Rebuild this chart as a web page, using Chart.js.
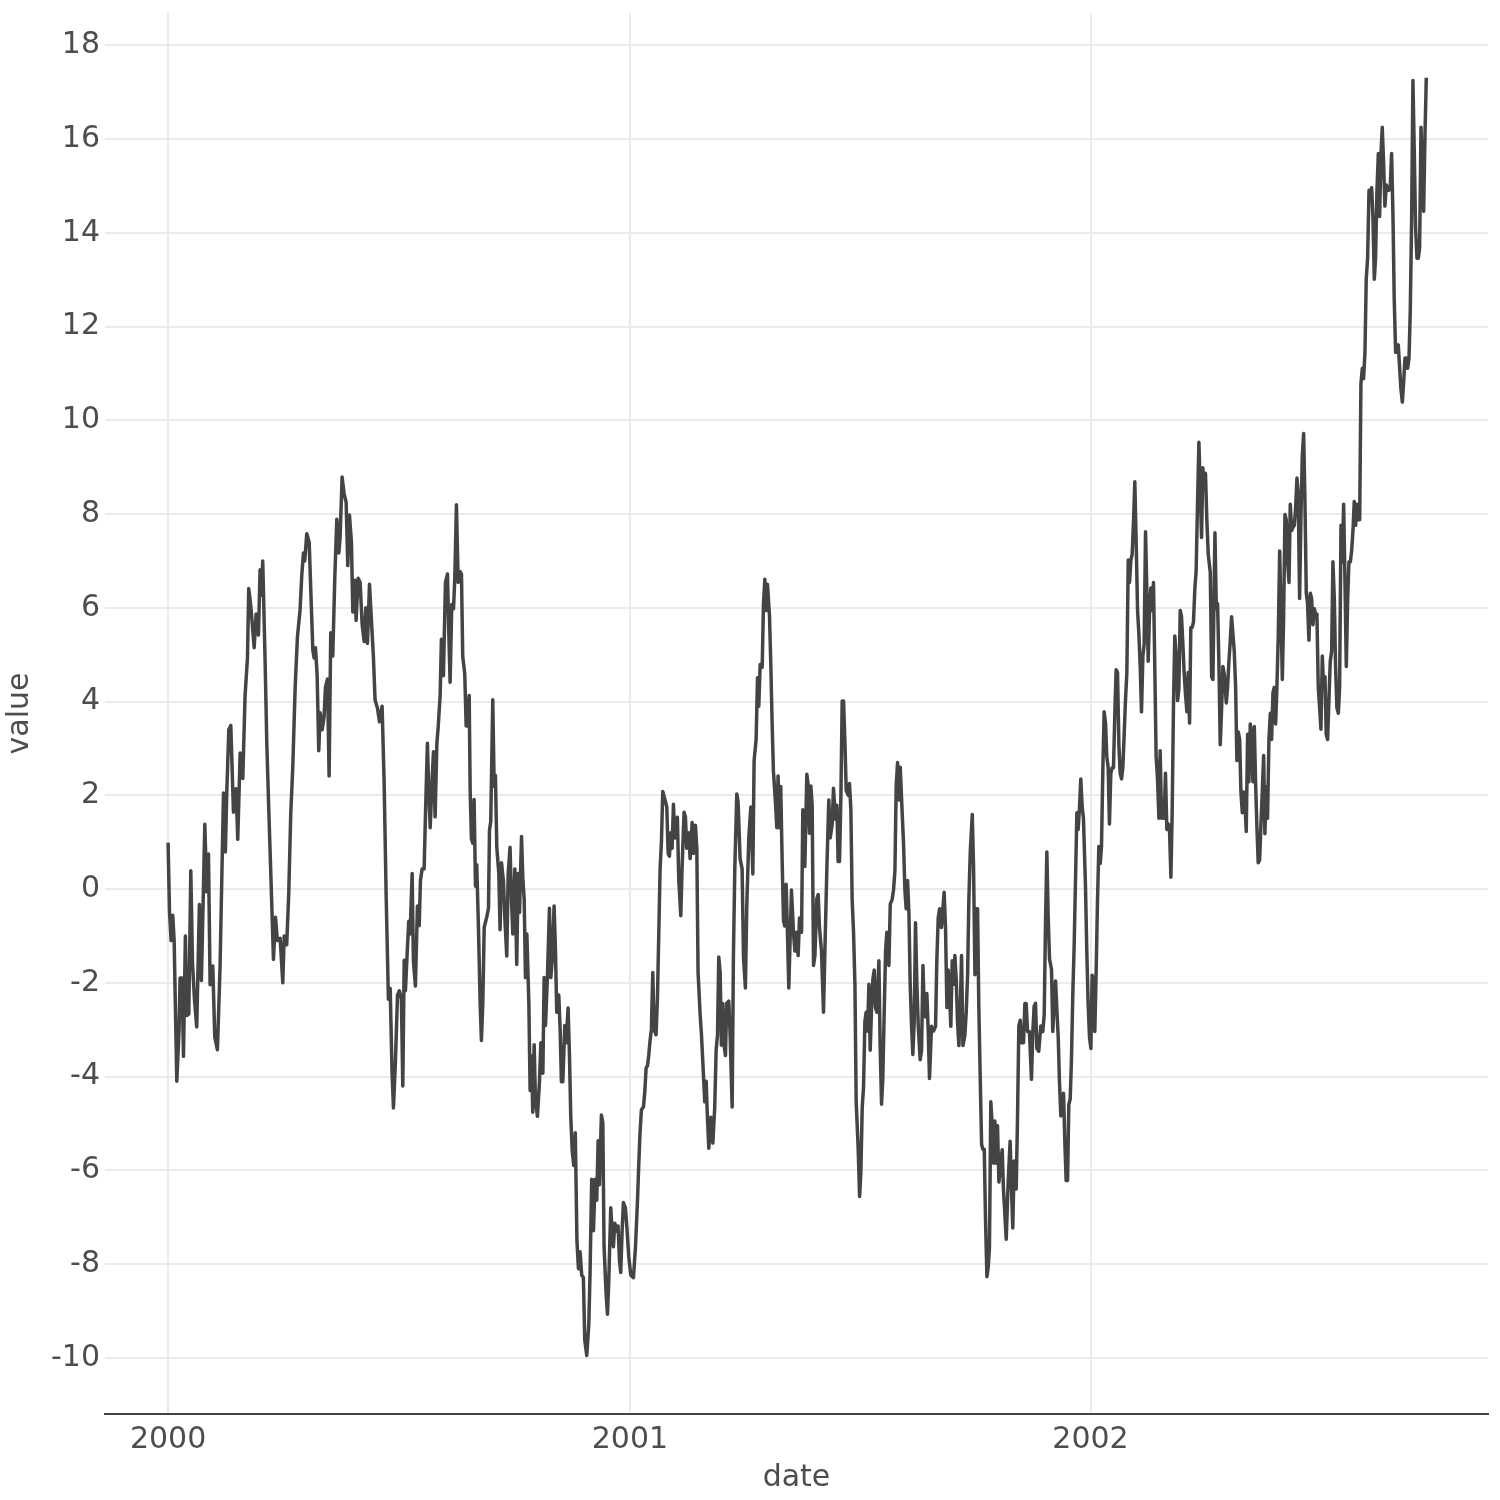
<!DOCTYPE html>
<html>
<head>
<meta charset="utf-8">
<title>value by date</title>
<script src="https://cdn.jsdelivr.net/npm/chart.js@4/dist/chart.umd.min.js"></script>
<style>
  html, body { margin: 0; padding: 0; background: #ffffff; }
  #wrap { width: 1500px; height: 1500px; position: relative; }
</style>
</head>
<body>
<div id="wrap"><canvas id="chart"></canvas></div>
<script>
// days since 2000-01-01
const dayOffsets = [
  // 2000
  0, 1.1, 2.4, 3.7, 4.8, 6.9, 8.7, 9.5, 11.1, 12.2,
  13.7, 14.8, 16.4, 18, 19.3, 20.9, 22.7, 24.8, 26.4, 29.1,
  30.6, 32, 33.3, 35.4, 37, 39.1, 41.2, 43.9, 45.4, 46.5,
  48.1, 49.7, 51.8, 53.9, 55.2, 57.1, 59.2, 61, 62.9, 63.9,
  65.5, 68.2, 69.8, 71.6, 72.9, 74, 75, 76.9, 78.2, 79.8,
  81.6, 83.5, 85.1, 86.6, 88.8, 90.9, 92, 94, 95.6, 97.2,
  98.8, 100.7, 102.5, 104.6, 106, 107.3, 108.3, 109.9, 111.8, 113.1,
  114.7, 115.7, 116.8, 118.1, 119.4, 120.5, 122.1, 123.6, 124.7, 126.3,
  127.6, 128.9, 130.5, 132.1, 133.7, 135.3, 136.3, 137.9, 139.5, 141.1,
  142.4, 143.7, 145.3, 146.4, 148, 149, 150.6, 152.2, 153.8, 155.4,
  156.7, 158, 159.6,
  162.7, 164, 166, 167.5, 169.6, 171.2, 172.8, 174.6, 176, 177.5,
  178.6, 180.2, 181.8, 183.3, 184.9, 186, 187.1, 188.1, 189.2, 190.7,
  191.8, 193.4, 194.4, 196, 197.6, 199, 200, 201.3, 202.9, 204,
  205.5, 206.6, 207.7, 209, 210.3, 211.6, 213, 214, 215.6, 216.6,
  218.2, 219.8, 221.4, 222.5, 223.5, 224.8, 226.2, 227.2, 228.5, 229.9,
  231.4, 232.5, 233.5, 235.1, 236.2, 237.2, 238.6, 239.4, 240.4, 241.5,
  242.5, 243.6, 244.6, 246, 247.3, 248.3, 249.4, 250.5, 252.6, 253.9,
  254.7, 255.7, 257.3, 258.4, 259.4, 260.5, 262.1, 263.1, 264.2, 265.8,
  266.8, 268.4, 269.5, 271, 272.1, 273.2, 274.8, 276.3, 277.4, 278.5,
  280.1, 281.1, 282.2, 283.2, 284.3, 285.9, 286.9, 288, 289, 290.1,
  291.1, 292.7, 294.3, 295.4, 297, 298, 299.1, 300.7, 302.2, 303.3,
  304.4, 305.9, 307, 308, 309.6, 310.7, 311.7, 312.8, 314.4, 315.4,
  317, 318.1, 319.1, 320.3, 321.5, 322.7, 324, 325.2,
  326.5, 327.8, 329.1, 330.2, 331.8, 333.4, 334.4, 335.7, 337.1, 338.4,
  339.7, 340.8, 341.8, 343.4, 344.5, 345.5, 347.1, 348.2, 349.2, 350.8,
  351.9, 352.9, 354, 355.6, 356.6, 357.7, 358.7, 359.8, 360.8, 362.4,
  363.5, 365.1,
  // 2001
  366.7, 368.8, 370.4, 372, 373, 374, 375.1, 376.7,
  377.8, 378.8, 379.9, 380.9, 382, 383, 384.1, 385.2, 386.7, 387.8,
  388.9, 389.9, 391, 392, 393.6, 395.2, 396.3, 397.3, 398.4, 399.4,
  400.5, 401.5, 402.6, 403.6, 404.7, 406.3, 407.3, 408.9, 410, 411,
  412.6, 413.7, 415.3, 416.3, 417.9, 419, 420, 421.6, 422.7, 424.3,
  425.3, 426.4, 427.4, 428.5, 430.1, 431.7, 433.2, 434.3, 435.4, 436.4,
  437.5, 438.5, 439.6, 440.6, 441.7, 442.7, 444.3, 445.4, 447, 448,
  449.1, 450.7, 451.7, 453.3, 454.9, 456, 457.5, 458.6, 460.2, 461.8,
  463.4, 464.4, 466, 467.1, 468.1, 469.2, 470.8, 471.8, 472.9, 473.9,
  475, 476.6, 477.6, 478.7, 479.7, 481.3, 482.4, 483.4, 484.5, 485.5,
  486.6, 487.7, 488.7, 489.8, 490.8, 491.9,
  494, 495.6, 496.7, 497.8, 499.3, 500.4, 502, 503, 504.6, 506.2,
  507.3, 508.3, 509.4, 510.4, 511.5, 512.6, 514.1, 515.2, 516.2, 517.8,
  519.4, 520.5, 522.1, 523.6, 524.7, 526.3, 527.3, 528.9, 530, 531,
  532.1, 533.2, 534.2, 535.3, 536.3, 537.4, 539, 540, 541.1, 542.1,
  543.2, 544.3, 545.3, 546.9, 548, 549, 550.1, 551.1, 552.2, 553.2,
  554.3, 555.4, 556.4, 557.5, 558.5, 559.6, 560.6, 561.7, 563.3, 564.3,
  565.4, 566.4, 567.5, 568.6, 569.6, 571.2, 572.3, 573.8, 574.9, 576,
  577, 578.1, 579.1, 580.2, 581.8, 582.8, 583.9, 584.9, 586, 587.1,
  588.1, 589.2, 590.2, 591.3, 592.3, 593.4, 594.5, 596, 597.1, 598.2,
  599.2, 600.3, 601.3, 602.4, 603.4, 605, 606.6, 608.2, 609.2, 610.3,
  611.4, 612.9, 614, 615, 616.1, 617.2, 618.2, 619.3, 620.3, 621.4,
  622.5, 623.5, 624.6, 625.6, 626.7, 627.7, 628.8, 629.9, 631.4, 632.5,
  633.6, 634.6, 635.7, 637.3, 638.3, 639.4, 640.4, 641.5, 642.5, 643.6,
  644.7, 645.7, 646.8, 647.8, 648.9, 649.9, 650.9, 652, 653.1, 654.2,
  655.2, 656.3, 657.3, 658.4,
  661, 662, 664.2, 665.7, 667.3, 668.4, 669.4, 670.5, 672.1, 673.1,
  674.2, 675.3, 676.3, 677.9, 679, 680, 681.1, 682.6, 684.2, 685.3,
  686.3, 687.4, 688.5, 690, 691.6, 693.2, 694.3, 695.3, 696.4, 697.4,
  698.5, 700.1, 701.1, 702.2, 703.3, 704.3, 705.4, 706.4, 707.5, 708.5,
  709.6, 710.7, 711.7, 712.8, 713.8, 714.9, 715.9, 717, 718, 719.1,
  720.2, 721.2, 722.3, 723.3, 724.4, 725.4, 727, 728.1, 729.1, 730.2,
  // 2002
  731.3, 732.3, 733.4, 734.4, 735.5, 736.5, 737.6, 738.7, 739.7, 740.8,
  741.8, 742.9, 743.9, 745, 746, 747.1, 748.2, 749.2, 750.3, 751.3,
  752.4, 753.5, 754.5, 755.6, 756.6, 757.7, 758.7, 759.8, 760.9, 761.9,
  763, 764, 765.1, 766.1, 767.2, 768.3, 769.3, 770.4, 771.4, 772.5,
  773.5, 774.6, 775.6, 776.7, 777.8, 778.8, 779.9, 780.9, 782, 783,
  784.1, 785.2, 786.2, 787.3, 788.3, 789.4, 790.4, 791.5, 792.6, 793.6,
  794.7, 795.7, 796.8, 797.8, 798.9, 800, 801, 802.1, 803.1, 804.2,
  805.2, 806.3, 807.4, 808.4, 809.5, 810.5, 811.6, 812.6, 813.7, 814.7,
  815.8, 816.9, 817.9, 819, 820, 821.1, 822.1, 823.2, 824.3,
  825.9, 827, 828, 829.6, 830.7, 831.7, 832.8, 833.8, 834.9, 835.9,
  837, 838.6, 839.6, 840.7, 841.8, 842.8, 843.9, 844.9, 846, 847,
  848.1, 849.2, 850.2, 851.3, 852.3, 853.4, 854.4, 855.5, 856.5, 857.6,
  858.7, 859.7, 860.8, 861.8, 862.9, 863.9, 865, 866.1, 867.1, 868.2,
  869.2, 870.3, 871.3, 872.4, 873.5, 874.5, 875.6, 876.6, 877.7, 878.7,
  879.8, 880.9, 881.9, 883, 884, 885.1, 886.1, 887.2, 888.3, 889.3,
  890.4, 891.4, 892.5, 893.5, 894.6, 895.6, 896.7, 897.8, 898.8, 899.9,
  900.9, 902, 903, 904.1, 905.2, 906.2, 907.3, 908.3, 909.4, 910.4,
  911.5, 912.6, 913.6, 914.7, 915.7, 916.8, 917.8, 918.9, 920, 921,
  922.1, 923.1, 924.2, 925.2, 926.3, 927.4, 928.4, 929.5, 930.5, 931.6,
  932.6, 933.7, 934.8, 935.8, 936.9, 937.9, 939, 940, 941.1, 942.1,
  943.2, 944.3, 945.3, 946.4, 947.4, 948.5, 949.5, 950.6, 951.7, 952.7,
  953.8, 954.8, 955.9, 956.9, 958, 959.1, 960.1, 961.2, 962.2, 963.3,
  964.3, 965.4, 966.5, 967.5, 968.6, 969.6, 970.7, 971.7, 972.8, 973.9,
  974.9, 976, 977, 978.1, 979.1, 980.2, 981.2, 982.3, 983.4, 984.4,
  985.5, 986.5, 987.6, 988.6, 989.7, 990.8, 991.8, 992.9, 993.9, 995,
  996, 997.1
];

const values = [
  // 2000
  0.99, -0.47, -1.1, -0.56, -1.1, -4.1, -3.0, -1.9, -1.9, -3.57,
  -1.0, -2.7, -2.67, 0.39, -1.55, -2.36, -2.94, -0.33, -1.95, 1.38,
  -0.06, 0.75, -2.04, -1.64, -3.16, -3.43, -1.64, 2.05, 0.79, 2.05,
  3.4, 3.49, 1.64, 2.14, 1.06, 2.9, 2.36, 4.12, 4.93, 6.41,
  6.05, 5.15, 5.87, 5.42, 6.81, 6.27, 7.0, 4.84, 3.13, 1.69,
  0.16, -1.5, -0.6, -1.1, -1.05, -2.0, -1.0, -1.19, -0.11, 1.6,
  2.59, 4.3, 5.38, 5.96, 6.72, 7.17, 7.0, 7.58, 7.4, 6.36,
  5.1, 4.93, 5.15, 4.57, 2.95, 3.76, 3.4, 3.67, 4.3, 4.48,
  2.41, 5.47, 4.97, 6.63, 7.89, 7.17, 7.49, 8.79, 8.43, 8.25,
  6.9, 7.98, 7.4, 5.91, 6.59, 5.73, 6.63, 6.54, 5.64, 5.28,
  6.0, 5.24, 6.5,
  4.96, 4.04, 3.85, 3.57, 3.9, 2.28, -0.13, -2.35, -2.12, -3.93,
  -4.67, -3.65, -2.26, -2.17, -2.35, -4.2, -1.52, -2.17, -1.52, -0.69,
  -0.96, 0.33, -1.52, -2.07, -0.36, -0.78, 0.19, 0.43, 0.43, 1.63,
  3.11, 2.09, 1.31, 2.19, 2.93, 1.54, 3.11, 3.44, 4.13, 5.33,
  4.55, 6.54, 6.72, 5.43, 4.41, 6.07, 5.98, 6.63, 8.2, 6.54,
  6.77, 6.72, 4.96, 4.59, 3.48, 3.48, 4.13, 2.09, 1.07, 0.98,
  1.91, 0.06, 0.52, -0.87, -2.44, -3.23, -2.44, -0.82, -0.59, -0.41,
  1.26, 1.44, 4.04, 2.19, 2.42, 0.89, 0.33, -0.87, 0.56, 0.15,
  -0.59, -1.43, 0.33, 0.89, -0.22, -0.96, 0.43, -1.61, 0.33, -0.5,
  1.12, 0.24, -0.22, -1.89, -0.96, -2.44, -4.3, -3.56, -4.76, -3.32,
  -4.48, -4.85, -4.11, -3.28, -3.93, -1.89, -2.91, -1.8, -0.41, -1.89,
  -1.52, -0.36, -1.33, -2.63, -2.26, -3.0, -4.11, -4.11, -2.91, -3.28,
  -2.54, -3.56, -4.85, -5.6, -5.9, -5.2, -7.5, -8.1,
  -7.74, -8.24, -8.29, -9.62, -9.95, -9.29, -8.18, -6.19, -7.29, -6.19,
  -6.64, -5.37, -6.31, -4.82, -4.98, -7.63, -8.63, -9.07, -8.4, -6.8,
  -7.3, -7.63, -7.13, -7.3, -7.19, -7.91, -8.18, -7.3, -6.69, -6.8,
  -7.19, -7.85,
  // 2001
  -8.24, -8.29, -7.63, -6.64, -5.87, -5.2, -4.71, -4.65,
  -4.32, -3.82, -3.77, -3.55, -3.22, -3.0, -1.78, -3.0, -3.11, -2.33,
  -0.9, 0.43, 1.03, 2.08, 1.92, 1.75, 0.76, 0.7, 1.2, 0.87,
  1.81, 1.09, 1.36, 1.53, 0.2, -0.57, 0.43, 1.64, 1.53, 0.87,
  1.2, 0.65, 1.42, 0.76, 1.36, 0.87, -1.78, -2.66, -3.11, -3.99,
  -4.54, -4.1, -4.87, -5.53, -4.87, -5.42, -4.65, -3.44, -3.11, -1.45,
  -1.78, -3.33, -2.44, -3.33, -3.55, -2.44, -2.39, -3.11, -4.65, -1.45,
  0.43, 2.03, 1.86, 0.65, 0.43, -1.45, -2.11, -0.35, 1.09, 1.75,
  0.32, 2.74, 3.19, 4.51, 3.9, 4.79, 4.73, 6.06, 6.61, 5.94,
  6.5, 5.83, 4.84, 3.52, 2.52, 1.86, 1.31, 2.41, 1.31, 2.19,
  0.65, -0.68, -0.79, 0.1, -0.9, -2.11,
  -0.02, -0.92, -1.32, -0.92, -1.42, -0.62, -0.92, 1.69, 0.48, 2.45,
  2.2, 1.19, 2.2, 1.79, -1.63, -1.42, -0.21, -0.12, -0.82, -1.32,
  -2.63, -1.32, 0.48, 1.9, 1.09, 1.39, 2.15, 1.49, 1.79, 0.59,
  0.59, 2.0, 4.01, 4.01, 3.2, 2.1, 2.0, 2.25, 1.69, -0.22,
  -0.92, -2.03, -4.54, -5.55, -6.56, -6.05, -4.64, -4.24, -2.83, -2.63,
  -3.03, -2.03, -3.44, -2.53, -1.93, -1.73, -2.53, -2.63, -1.53, -3.34,
  -4.59, -4.04, -2.63, -1.32, -0.92, -1.63, -0.32, -0.22, -0.02, 0.39,
  2.2, 2.7, 1.9, 2.6, 1.59, 0.99, -0.02, -0.42, 0.18, -0.52,
  -2.03, -2.93, -3.53, -2.83, -0.72, -2.03, -2.93, -3.64, -3.44, -1.63,
  -2.53, -2.73, -2.23, -3.03, -4.04, -2.93, -3.03, -2.93, -1.53, -0.62,
  -0.42, -0.82, -0.42, -0.07, -0.82, -2.53, -1.73, -2.23, -2.93, -1.53,
  -2.03, -1.42, -1.93, -2.83, -3.34, -2.63, -1.42, -3.34, -3.13, -2.63,
  -1.83, -0.22, 0.79, 1.59, 0.49, -1.83, -0.42, -0.42, -2.53, -4.04,
  -5.45, -5.55, -5.55, -7.06, -8.27, -8.07, -7.66, -4.54, -5.05, -5.85,
  -4.95, -5.85, -5.05, -6.25,
  -5.56, -6.4, -7.47, -6.28, -5.38, -6.4, -7.23, -5.8, -6.4, -4.96,
  -2.92, -2.8, -3.28, -3.28, -2.44, -2.44, -3.04, -3.04, -4.06, -3.04,
  -2.5, -2.44, -3.4, -3.46, -2.92, -3.04, -2.68, -0.77, 0.79, -0.53,
  -1.49, -1.72, -3.04, -2.44, -1.96, -2.56, -3.16, -4.12, -4.84, -4.48,
  -4.36, -5.44, -6.22, -6.22, -4.6, -4.48, -3.64, -2.2, -1.25, 0.19,
  1.63, 1.27, 1.75, 2.35, 1.75, 1.51, 0.07, -1.37, -2.44, -3.16,
  // 2002
  -3.4, -1.84, -1.96, -3.04, -1.72, -0.29, 0.91, 0.55, 0.91, 2.59,
  3.78, 3.54, 2.83, 2.59, 1.39, 2.47, 2.59, 2.59, 3.78, 4.68,
  4.62, 3.07, 2.47, 2.35, 2.59, 3.31, 4.02, 4.62, 7.02, 6.54,
  7.02, 7.14, 7.86, 8.69, 7.38, 5.94, 5.46, 4.74, 3.78, 4.98,
  5.22, 7.62, 6.42, 4.86, 5.94, 6.42, 5.94, 6.54, 4.62, 2.83,
  2.35, 1.51, 2.95, 1.51, 1.75, 1.51, 2.47, 1.27, 1.39, 1.27,
  0.25, 1.63, 4.02, 5.4, 4.98, 4.02, 4.26, 5.94, 5.82, 5.22,
  4.62, 4.14, 3.78, 4.62, 3.54, 5.58, 5.58, 5.7, 6.42, 6.78,
  8.22, 9.53, 8.57, 7.5, 8.99, 8.57, 8.87, 7.86, 7.14,
  6.76, 4.53, 4.47, 7.6, 5.98, 6.09, 4.75, 3.08, 3.86, 4.75,
  4.58, 3.97, 4.3, 4.86, 5.31, 5.81, 5.42, 5.08, 4.3, 2.74,
  3.35, 3.19, 2.07, 1.63, 2.07, 1.85, 1.23, 3.3, 2.29, 3.52,
  3.19, 2.29, 3.47, 2.29, 1.29, 0.56, 0.62, 1.4, 2.07, 2.85,
  1.18, 2.18, 1.51, 3.19, 3.75, 3.19, 4.19, 4.3, 3.52, 4.3,
  5.42, 7.21, 5.98, 4.47, 5.75, 7.99, 7.88, 6.98, 6.54, 8.21,
  7.65, 7.71, 7.76, 8.1, 8.77, 8.43, 6.2, 7.99, 9.21, 9.72,
  8.32, 6.31, 6.09, 5.31, 6.31, 6.2, 5.64, 5.98, 5.87, 5.87,
  4.3, 3.86, 3.41, 4.97, 4.3, 4.53, 3.3, 3.19, 4.08, 4.86,
  5.08, 6.98, 6.2, 4.75, 3.86, 3.75, 4.3, 7.76, 6.98, 8.21,
  6.65, 4.75, 6.2, 6.98, 6.98, 7.21, 7.65, 8.27, 7.76, 8.21,
  7.88, 7.88, 10.78, 11.11, 10.89, 11.45, 13.01, 13.46, 14.91, 14.79,
  14.96, 14.35, 13.01, 13.46, 14.91, 15.69, 14.35, 15.69, 16.25, 15.46,
  14.57, 15.02, 14.91, 14.91, 15.02, 15.69, 14.35, 12.56, 11.45, 11.45,
  11.61, 11.11, 10.67, 10.39, 10.78, 11.33, 11.33, 11.11, 11.33, 12.34,
  14.35, 17.25, 15.69, 14.12, 13.46, 13.46, 13.68, 16.25, 15.35, 14.46,
  16.02, 17.31
];

const yearLabels = ["2000", "2001", "2002"];
const valueTicks = [-10, -8, -6, -4, -2, 0, 2, 4, 6, 8, 10, 12, 14, 16, 18];

if (dayOffsets.length !== values.length) {
  console.error("length mismatch", dayOffsets.length, values.length);
}

// position of 1 January of each labelled year, in days since 2000-01-01
const yearStart = yearLabels.map(function (y) {
  return (Date.UTC(Number(y), 0, 1) - Date.UTC(2000, 0, 1)) / 86400000;
});

const points = dayOffsets.map(function (d, i) {
  return { x: d, y: values[i] };
});

const textColor = "#4d4d4d";
const gridColor = "#ebebeb";
const fontFamily = "'DejaVu Sans', 'Liberation Sans', sans-serif";

new Chart(document.getElementById("chart").getContext("2d"), {
  type: "line",
  data: {
    datasets: [{
      label: "value",
      data: points,
      borderColor: "#444444",
      borderWidth: 3.5,
      borderJoinStyle: "round",
      pointRadius: 0,
      tension: 0,
      fill: false
    }]
  },
  options: {
    responsive: true,
    maintainAspectRatio: false,
    devicePixelRatio: 1,
    animation: false,
    layout: { padding: { top: 13, right: 12, left: 0, bottom: 0 } },
    plugins: {
      legend: { display: false },
      tooltip: { enabled: false }
    },
    scales: {
      x: {
        type: "linear",
        min: -50,
        max: 1046,
        afterBuildTicks: function (scale) {
          scale.ticks = yearStart.map(function (v) { return { value: v }; });
        },
        afterFit: function (scale) {
          scale.height = 86;
          scale.paddingLeft = 0;
          scale.paddingRight = 0;
        },
        ticks: {
          autoSkip: false,
          maxRotation: 0,
          padding: 8,
          color: textColor,
          font: { family: fontFamily, size: 30 },
          callback: function (value, index) { return yearLabels[index]; }
        },
        grid: { color: gridColor, lineWidth: 2, drawTicks: false },
        border: { display: true, color: "#444444", width: 2 },
        title: {
          display: true,
          text: "date",
          color: textColor,
          font: { family: fontFamily, size: 30 },
          padding: { top: 0, bottom: 4 }
        }
      },
      y: {
        type: "linear",
        min: -11.2,
        max: 18.69,
        afterBuildTicks: function (scale) {
          scale.ticks = valueTicks.map(function (v) { return { value: v }; });
        },
        afterFit: function (scale) {
          scale.width = 105;
          scale.paddingTop = 0;
          scale.paddingBottom = 0;
        },
        ticks: {
          padding: 5,
          color: textColor,
          font: { family: fontFamily, size: 30 },
          callback: function (value) { return String(value); }
        },
        grid: { color: gridColor, lineWidth: 2, drawTicks: false },
        border: { display: false },
        title: {
          display: true,
          text: "value",
          color: textColor,
          font: { family: fontFamily, size: 30 },
          padding: { top: 2, bottom: 0 }
        }
      }
    }
  }
});
</script>
</body>
</html>
